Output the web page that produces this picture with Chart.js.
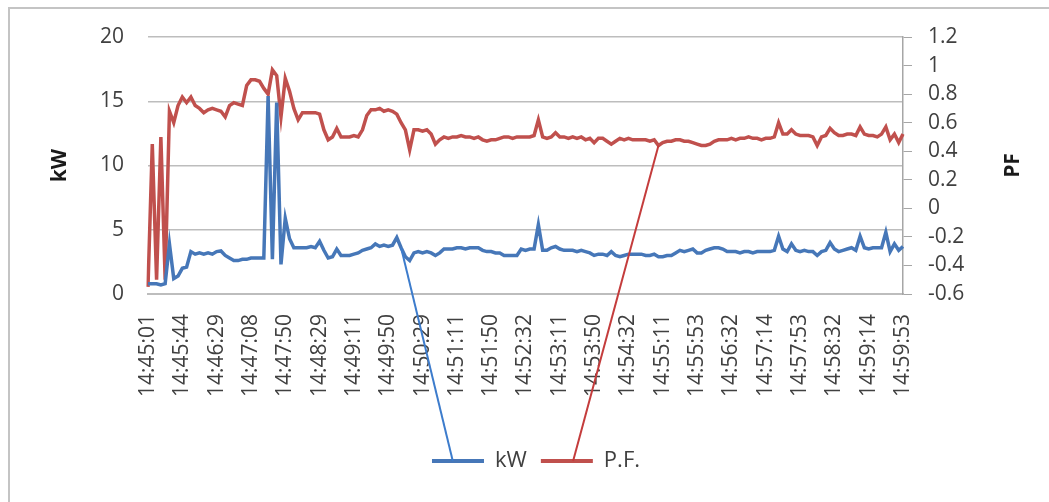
<!DOCTYPE html>
<html>
<head>
<meta charset="utf-8">
<script src="https://cdn.jsdelivr.net/npm/chart.js"></script>
<style>
  html, body { margin: 0; padding: 0; background: #fff; overflow: hidden; }
  #frame { position: absolute; left: 8px; top: 7px; width: 1100px; height: 600px; border: 2px solid #c4c4c4; }
  #wrap { position: absolute; left: 0; top: 0; width: 1049px; height: 502px; }
</style>
</head>
<body>
<div id="frame"></div>
<div id="wrap"><canvas id="myChart" width="1049" height="502"></canvas></div>
<script>
// Nhãn thời gian hiển thị trên trục X (mỗi nhãn cách nhau 8 điểm đo)
const tickLabels = [
    '14:45:01', '14:45:44', '14:46:29', '14:47:08', '14:47:50', '14:48:29',
    '14:49:11', '14:49:50', '14:50:29', '14:51:11', '14:51:50', '14:52:32',
    '14:53:11', '14:53:50', '14:54:32', '14:55:11', '14:55:53', '14:56:32',
    '14:57:14', '14:57:53', '14:58:32', '14:59:14', '14:59:53'
];
const pointsPerLabel = 8;

// Công suất (kW) - trục trái
const kwValues = [
    0.8, 0.8, 0.8, 0.7, 0.8, 3.9, 1.2, 1.4, 2.0, 2.1,
    3.3, 3.1, 3.2, 3.1, 3.2, 3.1, 3.3, 3.35, 3.0, 2.8,
    2.6, 2.6, 2.7, 2.7, 2.8, 2.8, 2.8, 2.8, 15.4, 2.7,
    14.9, 2.3, 5.9, 4.3, 3.6, 3.6, 3.6, 3.6, 3.7, 3.6,
    4.1, 3.4, 2.8, 2.9, 3.5, 3.0, 3.0, 3.0, 3.1, 3.2,
    3.4, 3.5, 3.6, 3.9, 3.7, 3.8, 3.7, 3.8, 4.4, 3.6,
    2.9, 2.6, 3.2, 3.3, 3.2, 3.3, 3.2, 3.0, 3.2, 3.5,
    3.5, 3.5, 3.6, 3.6, 3.5, 3.6, 3.6, 3.6, 3.4, 3.3,
    3.3, 3.2, 3.2, 3.0, 3.0, 3.0, 3.0, 3.5, 3.4, 3.5,
    3.5, 5.4, 3.4, 3.4, 3.6, 3.7, 3.5, 3.4, 3.4, 3.4,
    3.3, 3.4, 3.3, 3.2, 3.0, 3.1, 3.1, 3.0, 3.3, 3.0,
    2.9, 3.0, 3.1, 3.1, 3.1, 3.1, 3.0, 3.0, 3.1, 2.9,
    2.9, 3.0, 3.0, 3.2, 3.4, 3.3, 3.4, 3.5, 3.2, 3.2,
    3.4, 3.5, 3.6, 3.6, 3.5, 3.3, 3.3, 3.3, 3.2, 3.3,
    3.3, 3.2, 3.3, 3.3, 3.3, 3.3, 3.4, 4.5, 3.5, 3.3,
    3.9, 3.4, 3.3, 3.4, 3.3, 3.3, 3.0, 3.3, 3.4, 4.0,
    3.5, 3.3, 3.4, 3.5, 3.6, 3.4, 4.5, 3.6, 3.5, 3.6,
    3.6, 3.6, 4.8, 3.3, 3.9, 3.4, 3.7
];

// Hệ số công suất (P.F.) - trục phải
const pfValues = [
    -0.55, 0.45, -0.5, 0.5, -0.5, 0.68, 0.6, 0.72, 0.78, 0.74,
    0.78, 0.72, 0.70, 0.67, 0.69, 0.70, 0.69, 0.68, 0.64, 0.72,
    0.74, 0.73, 0.72, 0.86, 0.90, 0.90, 0.89, 0.84, 0.80, 0.97,
    0.93, 0.64, 0.91, 0.82, 0.70, 0.62, 0.67, 0.67, 0.67, 0.67,
    0.66, 0.55, 0.48, 0.50, 0.56, 0.50, 0.50, 0.50, 0.51, 0.50,
    0.55, 0.65, 0.69, 0.69, 0.70, 0.68, 0.69, 0.68, 0.66, 0.60,
    0.55, 0.41, 0.55, 0.55, 0.54, 0.55, 0.52, 0.45, 0.48, 0.50,
    0.49, 0.50, 0.50, 0.51, 0.50, 0.50, 0.49, 0.50, 0.48, 0.47,
    0.48, 0.48, 0.49, 0.50, 0.50, 0.49, 0.50, 0.50, 0.50, 0.50,
    0.51, 0.62, 0.50, 0.49, 0.50, 0.53, 0.50, 0.50, 0.49, 0.50,
    0.49, 0.50, 0.48, 0.49, 0.46, 0.49, 0.49, 0.47, 0.45, 0.47,
    0.49, 0.48, 0.49, 0.48, 0.48, 0.48, 0.48, 0.47, 0.48, 0.44,
    0.46, 0.47, 0.47, 0.48, 0.48, 0.47, 0.47, 0.46, 0.45, 0.44,
    0.44, 0.45, 0.47, 0.48, 0.48, 0.48, 0.49, 0.48, 0.49, 0.49,
    0.50, 0.49, 0.49, 0.48, 0.49, 0.49, 0.50, 0.60, 0.52, 0.52,
    0.55, 0.52, 0.51, 0.51, 0.51, 0.50, 0.44, 0.50, 0.51, 0.56,
    0.53, 0.51, 0.51, 0.52, 0.52, 0.51, 0.57, 0.52, 0.51, 0.51,
    0.50, 0.52, 0.57, 0.48, 0.52, 0.46, 0.52
];

const seriesNames = ['kW', 'P.F.'];
const leftTitle = 'kW';
const rightTitle = 'PF';
// Điểm bắt đầu của hai đường chỉ dẫn tới chú thích
const leaderIndex = [59, 119];

const blue = '#4677b8';
const red = '#c0504d';
const textColor = '#404040';

Chart.defaults.font.family = '"Open Sans", "Liberation Sans", sans-serif';

// Tạo danh sách category, chỉ gắn nhãn mỗi 8 điểm
const categories = kwValues.map((v, i) =>
    i % pointsPerLabel === 0 ? (tickLabels[i / pointsPerLabel] || '') : ''
);

// Plugin vẽ tiêu đề trục phải và các đường chỉ dẫn
const extrasPlugin = {
    id: 'extras',
    afterDraw(chart) {
        const ctx = chart.ctx;
        const r = chart.scales.y1;
        ctx.save();
        ctx.font = 'bold 21px "Open Sans"';
        ctx.fillStyle = '#1a1a1a';
        ctx.textAlign = 'center';
        ctx.textBaseline = 'middle';
        ctx.translate(r.right - 12, (r.top + r.bottom) / 2);
        ctx.rotate(-Math.PI / 2);
        ctx.fillText(rightTitle, 0, 0);
        ctx.restore();

        const boxes = chart.legend.legendHitBoxes;
        const bw = chart.legend.options.labels.boxWidth;
        const fractions = [0.4, 0.62];
        const colors = ['#3d7ccc', '#c43c3c'];
        leaderIndex.forEach((idx, d) => {
            const pt = chart.getDatasetMeta(d).data[idx];
            const hb = boxes[d];
            if (!pt || !hb) return;
            ctx.save();
            ctx.strokeStyle = colors[d];
            ctx.lineWidth = 2;
            ctx.beginPath();
            ctx.moveTo(pt.x, pt.y);
            ctx.lineTo(hb.left + bw * fractions[d], hb.top + hb.height / 2);
            ctx.stroke();
            ctx.restore();
        });
    }
};

const tickFont = { size: 21 };

new Chart(document.getElementById('myChart').getContext('2d'), {
    type: 'line',
    data: {
        labels: categories,
        datasets: [{
            label: seriesNames[0],
            data: kwValues,
            borderColor: blue,
            backgroundColor: blue,
            borderWidth: 3.5,
            pointRadius: 0,
            tension: 0,
            yAxisID: 'y'
        }, {
            label: seriesNames[1],
            data: pfValues,
            borderColor: red,
            backgroundColor: red,
            borderWidth: 3.5,
            pointRadius: 0,
            tension: 0,
            yAxisID: 'y1'
        }]
    },
    options: {
        responsive: false,
        animation: false,
        layout: {
            padding: { left: 47, right: 24, top: 37, bottom: 20 }
        },
        plugins: {
            tooltip: { enabled: false },
            legend: {
                position: 'bottom',
                labels: {
                    font: { size: 22 },
                    color: textColor,
                    boxWidth: 52,
                    boxHeight: 4,
                    padding: 14,
                    generateLabels(chart) {
                        return Chart.defaults.plugins.legend.labels.generateLabels(chart)
                            .map(l => Object.assign(l, { lineWidth: 0, fillStyle: l.strokeStyle }));
                    }
                }
            }
        },
        scales: {
            x: {
                grid: { display: false },
                border: { display: true, color: '#bdbdbd', width: 2 },
                ticks: {
                    autoSkip: false,
                    minRotation: 90,
                    maxRotation: 90,
                    padding: 12,
                    font: tickFont,
                    color: textColor
                },
                afterFit(s) { s.height = 142; }
            },
            y: {
                position: 'left',
                min: 0,
                max: 20,
                ticks: { stepSize: 5, padding: 24, font: tickFont, color: textColor },
                grid: { color: '#bdbdbd', lineWidth: 1.5, drawTicks: false },
                border: { display: false },
                title: {
                    display: true,
                    text: leftTitle,
                    font: { size: 21, weight: 'bold' },
                    color: '#1a1a1a',
                    padding: 0
                },
                afterFit(s) { s.width = 101; }
            },
            y1: {
                position: 'right',
                min: -0.6,
                max: 1.2,
                ticks: {
                    stepSize: 0.2,
                    autoSkip: false,
                    padding: 16,
                    font: tickFont,
                    color: textColor,
                    callback: v => String(Number(v.toFixed(1)))
                },
                grid: { drawOnChartArea: false, drawTicks: true, tickLength: 9, color: '#a6a6a6' },
                border: { display: true, color: '#a6a6a6', width: 1.5 },
                afterFit(s) { s.width = 122; }
            }
        }
    },
    plugins: [extrasPlugin]
});
</script>
</body>
</html>
